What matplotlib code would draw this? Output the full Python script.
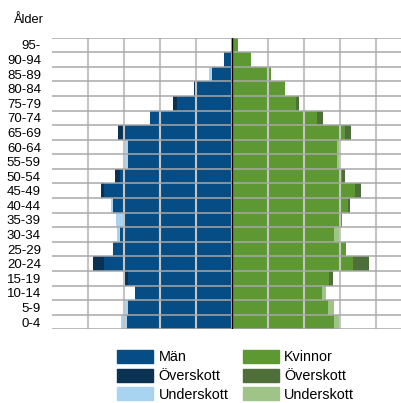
#! /usr/bin/env python3

"""Population pyramid, men left and women right, with surplus and deficit"""

import matplotlib
matplotlib.use('Agg')
import matplotlib.pyplot as plt
from matplotlib.patches import Patch
import numpy as np

plt.rcParams['font.family'] = ['Liberation Sans', 'DejaVu Sans']

# Age groups from youngest (bottom) to oldest (top)

ages = ['0-4', '5-9', '10-14', '15-19', '20-24', '25-29', '30-34', '35-39',
        '40-44', '45-49', '50-54', '55-59', '60-64', '65-69', '70-74',
        '75-79', '80-84', '85-89', '90-94', '95-']

men_base = [2.92, 2.89, 2.69, 2.89, 3.56, 3.31, 3.11, 3.02, 3.31, 3.56,
            3.11, 2.89, 2.89, 3.00, 2.28, 1.53, 0.98, 0.56, 0.22, 0.01]
men_over = [0, 0, 0, 0.08, 0.31, 0, 0, 0, 0, 0.08,
            0.14, 0, 0, 0.17, 0, 0.11, 0.07, 0, 0, 0.01]
men_under = [0.17, 0.13, 0, 0, 0, 0, 0.08, 0.20, 0.06, 0,
             0, 0.11, 0.11, 0, 0, 0, 0, 0.08, 0, 0]

women_base = [2.83, 2.67, 2.50, 2.69, 3.37, 3.16, 2.83, 3.05, 3.22, 3.42,
              3.05, 2.92, 2.92, 3.14, 2.37, 1.78, 1.47, 1.08, 0.52, 0.16]
women_over = [0, 0, 0, 0.11, 0.44, 0, 0, 0, 0.05, 0.17,
              0.08, 0, 0, 0.16, 0.16, 0.07, 0, 0, 0, 0]
women_under = [0.13, 0.17, 0.11, 0, 0, 0, 0.19, 0, 0, 0,
               0, 0.07, 0.06, 0, 0, 0, 0, 0, 0, 0]

legend_labels = ['Män', 'Överskott', 'Underskott', 'Kvinnor', 'Överskott', 'Underskott']

col_men = '#064d85'
col_men_over = '#0b3253'
col_men_under = '#a9d4f1'
col_women = '#5e9833'
col_women_over = '#4e6e3a'
col_women_under = '#a0c387'

fig = plt.figure(figsize=(4.02, 4.03), dpi=100)
ax = fig.add_axes([52 / 402, 1 - 329.3 / 403, 350 / 402, 291.6 / 403])

ypos = np.arange(len(ages))
mb = np.array(men_base)
wb = np.array(women_base)

ax.barh(ypos, -mb, height=1.0, color=col_men, zorder=1)
ax.barh(ypos, -np.array(men_over), left=-mb, height=1.0, color=col_men_over, zorder=1)
ax.barh(ypos, -np.array(men_under), left=-mb, height=1.0, color=col_men_under, zorder=1)
ax.barh(ypos, wb, height=1.0, color=col_women, zorder=1)
ax.barh(ypos, women_over, left=wb, height=1.0, color=col_women_over, zorder=1)
ax.barh(ypos, women_under, left=wb, height=1.0, color=col_women_under, zorder=1)

ax.set_xlim(-5, 170 / 36)
ax.set_ylim(-0.5, len(ages) - 0.5)

# Grid drawn on top of the bars
ax.set_xticks(np.arange(-4, 5))
ax.set_xticklabels([])
ax.set_yticks(ypos)
ax.set_yticklabels(ages, fontsize=9.5)
ax.set_yticks(np.arange(-0.5, len(ages)), minor=True)
ax.tick_params(axis='both', which='both', length=0)
ax.tick_params(axis='y', pad=8)
ax.grid(axis='x', which='major', color='#c4c4c4', linewidth=1.5, zorder=2)
ax.grid(axis='y', which='minor', color='#a8a8a8', linewidth=1.1, zorder=2)
ax.set_axisbelow(False)
ax.axvline(0, color='black', linewidth=1.0, zorder=3)

for sp in ax.spines.values():
    sp.set_visible(False)

fig.text(13 / 402, 1 - 23 / 403, 'Ålder', fontsize=9.3, va='baseline', ha='left')

handles = [Patch(color=c) for c in (col_men, col_men_over, col_men_under,
                                    col_women, col_women_over, col_women_under)]
fig.legend(handles, legend_labels, ncol=2, loc='upper left',
           bbox_to_anchor=(117 / 402, 1 - 350 / 403), frameon=False,
           fontsize=10.4, handlelength=2.5, handleheight=1.0,
           handletextpad=0.37, labelspacing=0.3, columnspacing=1.0,
           borderpad=0, borderaxespad=0)

fig.savefig('out.png', dpi=100)
plt.close(fig)
